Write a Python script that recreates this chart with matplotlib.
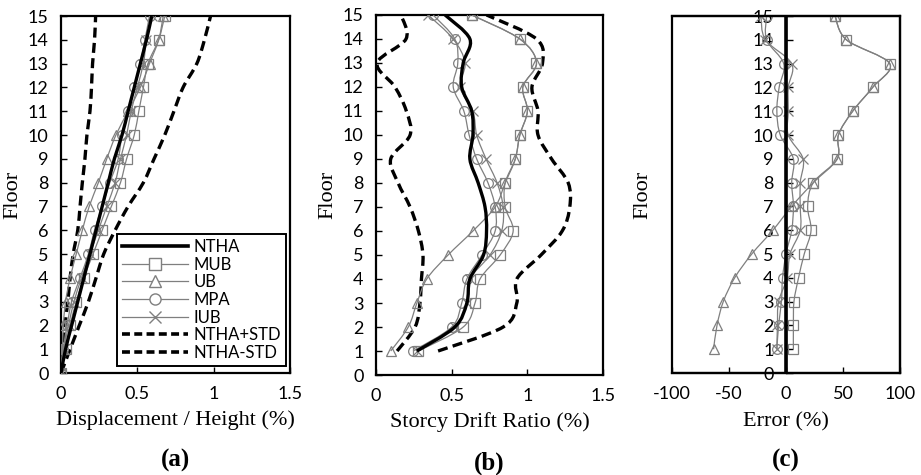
import numpy as np
import matplotlib
matplotlib.use("Agg")
import matplotlib.pyplot as plt
from matplotlib.path import Path
from matplotlib.patches import PathPatch, Rectangle
from matplotlib.lines import Line2D

plt.rcParams["font.family"] = ["Lato", "DejaVu Sans"]
plt.rcParams["axes.unicode_minus"] = False

FLOORS = list(range(0, 16))
FLOORS_B = list(range(1, 16))

# (a) displacement / height (%)
A_NTHA = [0, 0.03, 0.07, 0.11, 0.15, 0.19, 0.23, 0.27, 0.31, 0.35, 0.40, 0.44, 0.48, 0.52, 0.56, 0.595]
A_MUB = [0, 0.03, 0.06, 0.10, 0.15, 0.21, 0.27, 0.33, 0.39, 0.43, 0.48, 0.51, 0.54, 0.57, 0.64, 0.68]
A_UB = [0, 0.01, 0.015, 0.03, 0.06, 0.10, 0.14, 0.185, 0.245, 0.30, 0.36, 0.44, 0.52, 0.58, 0.64, 0.67]
A_MPA = [0, 0.015, 0.04, 0.07, 0.125, 0.18, 0.22, 0.27, 0.32, 0.375, 0.40, 0.44, 0.48, 0.52, 0.55, 0.58]
A_IUB = [0, 0.02, 0.05, 0.085, 0.135, 0.19, 0.245, 0.30, 0.355, 0.39, 0.43, 0.46, 0.50, 0.54, 0.56, 0.595]
A_PLUS = [0, 0.06, 0.12, 0.18, 0.23, 0.28, 0.355, 0.44, 0.54, 0.61, 0.68, 0.74, 0.80, 0.89, 0.94, 0.98]
A_MINUS = [0, 0.015, 0.026, 0.045, 0.06, 0.08, 0.11, 0.125, 0.14, 0.157, 0.17, 0.19, 0.20, 0.207, 0.22, 0.227]

# (b) storey drift ratio (%), floors 1..15
B_NTHA = [0.27, 0.52, 0.60, 0.62, 0.71, 0.73, 0.72, 0.675, 0.62, 0.64, 0.632, 0.566, 0.576, 0.62, 0.456]
B_MUB = [0.28, 0.576, 0.654, 0.687, 0.82, 0.906, 0.853, 0.853, 0.92, 0.95, 1.0, 0.97, 1.06, 0.95, 0.632]
B_UB = [0.097, 0.213, 0.27, 0.335, 0.476, 0.64, 0.787, 0.853, 0.92, 0.95, 1.0, 0.97, 1.06, 0.95, 0.632]
B_MPA = [0.245, 0.50, 0.566, 0.60, 0.70, 0.787, 0.787, 0.74, 0.665, 0.615, 0.58, 0.51, 0.54, 0.52, 0.377]
B_IUB = [0.27, 0.52, 0.60, 0.62, 0.753, 0.83, 0.84, 0.80, 0.727, 0.665, 0.64, 0.555, 0.588, 0.51, 0.344]
B_PLUS = [0.41, 0.84, 0.93, 0.93, 1.09, 1.23, 1.28, 1.27, 1.16, 1.07, 1.07, 1.03, 1.10, 1.06, 0.73]
B_MINUS = [0.139, 0.258, 0.29, 0.30, 0.31, 0.28, 0.225, 0.146, 0.097, 0.225, 0.20, 0.125, 0.007, 0.198, 0.165]

# (c) error (%), floors 1..15
C_MUB = [6.5, 6.5, 7, 11, 16, 22, 19, 24, 45, 46, 58.5, 76, 91, 53, 43]
C_UB = [-63.5, -60.5, -55, -45, -30, -11.5, 5, 24, 45, 46, 58.5, 76, 91, 53, 43]
C_MPA = [-8, -6.5, -4, -3, 0, 5, 6.5, 5, 6.5, -5, -8, -6, -2, -17, -17]
C_IUB = [-8, -7.5, -6.5, 1, 3.5, 12.5, 12.5, 12.5, 15, 2, 2, 2, 5, -18, -22]
C_NTHA_FLOORS = [0, 15]
C_NTHA = [0, 0]

GRAY = "#7f7f7f"
SERIF = ["Liberation Serif", "DejaVu Serif"]
TICK_SIZE = 13
LABEL_SIZE = 16


def smooth_line(ax, xs, ys, **kw):
    # Excel-style smoothed line drawn as cubic Bezier segments
    pts = np.column_stack([xs, ys]).astype(float)
    n = len(pts)
    verts = [pts[0]]
    codes = [Path.MOVETO]
    for i in range(n - 1):
        p0 = pts[i - 1] if i > 0 else pts[i]
        p1 = pts[i]
        p2 = pts[i + 1]
        p3 = pts[i + 2] if i + 2 < n else pts[i + 1]
        c1 = p1 + (p2 - p0) / 6.0
        c2 = p2 - (p3 - p1) / 6.0
        verts += [c1, c2, p2]
        codes += [Path.CURVE4] * 3
    patch = PathPatch(Path(verts, codes), fill=False, **kw)
    ax.add_patch(patch)
    return patch


def method(ax, xs, ys, marker, size=7):
    smooth_line(ax, xs, ys, edgecolor=GRAY, linewidth=0.9, zorder=3)
    ax.plot(xs, ys, linestyle="none", marker=marker, markersize=size,
            markerfacecolor="none", markeredgecolor=GRAY, markeredgewidth=0.9, zorder=4)


def style(ax):
    for s in ax.spines.values():
        s.set_linewidth(1.6)
    ax.tick_params(direction="in", length=4, width=1, labelsize=TICK_SIZE, colors="black")
    ax.tick_params(axis="y", pad=9)
    ax.tick_params(axis="x", pad=9)
    ax.set_yticks(range(0, 16))
    ax.set_ylim(0, 15)


fig = plt.figure(figsize=(9.21, 4.75), dpi=100)
ax_a = fig.add_axes([0.0662, 0.2147, 0.2486, 0.7516])
ax_b = fig.add_axes([0.4083, 0.2105, 0.2465, 0.7580])
ax_c = fig.add_axes([0.7296, 0.2147, 0.2476, 0.7516])

# (a)
style(ax_a)
ax_a.set_xlim(0, 1.5)
ax_a.set_xticks([0, 0.5, 1, 1.5])
ax_a.set_xticklabels(["0", "0.5", "1", "1.5"])
smooth_line(ax_a, A_PLUS, FLOORS, edgecolor="black", linewidth=2.4, linestyle=(0, (3, 1.6)), zorder=2)
smooth_line(ax_a, A_MINUS, FLOORS, edgecolor="black", linewidth=2.4, linestyle=(0, (3, 1.6)), zorder=2)
method(ax_a, A_MUB, FLOORS, "s")
method(ax_a, A_UB, FLOORS, "^")
method(ax_a, A_MPA, FLOORS, "o")
method(ax_a, A_IUB, FLOORS, "x")
smooth_line(ax_a, A_NTHA, FLOORS, edgecolor="black", linewidth=2.4, zorder=5)

handles = [
    Line2D([], [], color="black", linewidth=2.6),
    Line2D([], [], color=GRAY, linewidth=0.9, marker="s", markersize=8, markerfacecolor="white", markeredgecolor=GRAY),
    Line2D([], [], color=GRAY, linewidth=0.9, marker="^", markersize=8, markerfacecolor="white", markeredgecolor=GRAY),
    Line2D([], [], color=GRAY, linewidth=0.9, marker="o", markersize=8, markerfacecolor="white", markeredgecolor=GRAY),
    Line2D([], [], color=GRAY, linewidth=0.9, marker="x", markersize=8, markeredgecolor=GRAY),
    Line2D([], [], color="black", linewidth=2.6, linestyle=(0, (2.2, 1.2))),
    Line2D([], [], color="black", linewidth=2.6, linestyle=(0, (2.2, 1.2))),
]
labels = ["NTHA", "MUB", "UB", "MPA", "IUB", "NTHA+STD", "NTHA-STD"]
leg = ax_a.legend(handles, labels, loc="lower right", bbox_to_anchor=(0.99, 0.015),
                  fontsize=12, handlelength=4.0, handletextpad=0.3, labelspacing=0.1,
                  borderpad=0.3, borderaxespad=0.1, fancybox=False, framealpha=1, edgecolor="black")
leg.get_frame().set_linewidth(1.4)
leg.set_zorder(10)
ax_a.set_ylabel("Floor", family=SERIF, fontsize=LABEL_SIZE, labelpad=4)
ax_a.set_xlabel("Displacement / Height (%)", family=SERIF, fontsize=LABEL_SIZE, labelpad=6)

# (b)
style(ax_b)
ax_b.set_xlim(0, 1.5)
ax_b.set_xticks([0, 0.5, 1, 1.5])
ax_b.set_xticklabels(["0", "0.5", "1", "1.5"])
smooth_line(ax_b, B_PLUS, FLOORS_B, edgecolor="black", linewidth=2.4, linestyle=(0, (3, 1.6)), zorder=2)
smooth_line(ax_b, B_MINUS, FLOORS_B, edgecolor="black", linewidth=2.4, linestyle=(0, (3, 1.6)), zorder=2)
method(ax_b, B_MUB, FLOORS_B, "s")
method(ax_b, B_UB, FLOORS_B, "^")
method(ax_b, B_MPA, FLOORS_B, "o")
method(ax_b, B_IUB, FLOORS_B, "x")
smooth_line(ax_b, B_NTHA, FLOORS_B, edgecolor="black", linewidth=2.4, zorder=5)
ax_b.set_ylabel("Floor", family=SERIF, fontsize=LABEL_SIZE, labelpad=4)
ax_b.set_xlabel("Storcy Drift Ratio (%)", family=SERIF, fontsize=LABEL_SIZE, labelpad=6)

# (c)
style(ax_c)
ax_c.set_xlim(-100, 100)
ax_c.set_xticks([-100, -50, 0, 50, 100])
ax_c.spines["left"].set_position(("data", 0))
ax_c.spines["left"].set_linewidth(1.0)
ax_c.add_patch(Rectangle((0, 0), 1, 1, transform=ax_c.transAxes, fill=False,
                         edgecolor="black", linewidth=1.6, zorder=6, clip_on=False))
ax_c.tick_params(axis="y", direction="in", length=5, pad=9)
method(ax_c, C_MUB, FLOORS_B, "s")
method(ax_c, C_UB, FLOORS_B, "^")
method(ax_c, C_MPA, FLOORS_B, "o")
method(ax_c, C_IUB, FLOORS_B, "x")
ax_c.plot(C_NTHA, C_NTHA_FLOORS, color="black", linewidth=2.6, zorder=5)
ax_c.set_ylabel("Floor", family=SERIF, fontsize=LABEL_SIZE, labelpad=0)
ax_c.yaxis.set_label_coords(-0.085, 0.5)
ax_c.set_xlabel("Error (%)", family=SERIF, fontsize=LABEL_SIZE, labelpad=8)

for ax, tag in [(ax_a, "(a)"), (ax_b, "(b)"), (ax_c, "(c)")]:
    ax.text(0.5, -0.245, tag, transform=ax.transAxes, ha="center", va="center",
            family=SERIF, fontsize=18, fontweight="bold")

fig.savefig("out.png", dpi=100)
